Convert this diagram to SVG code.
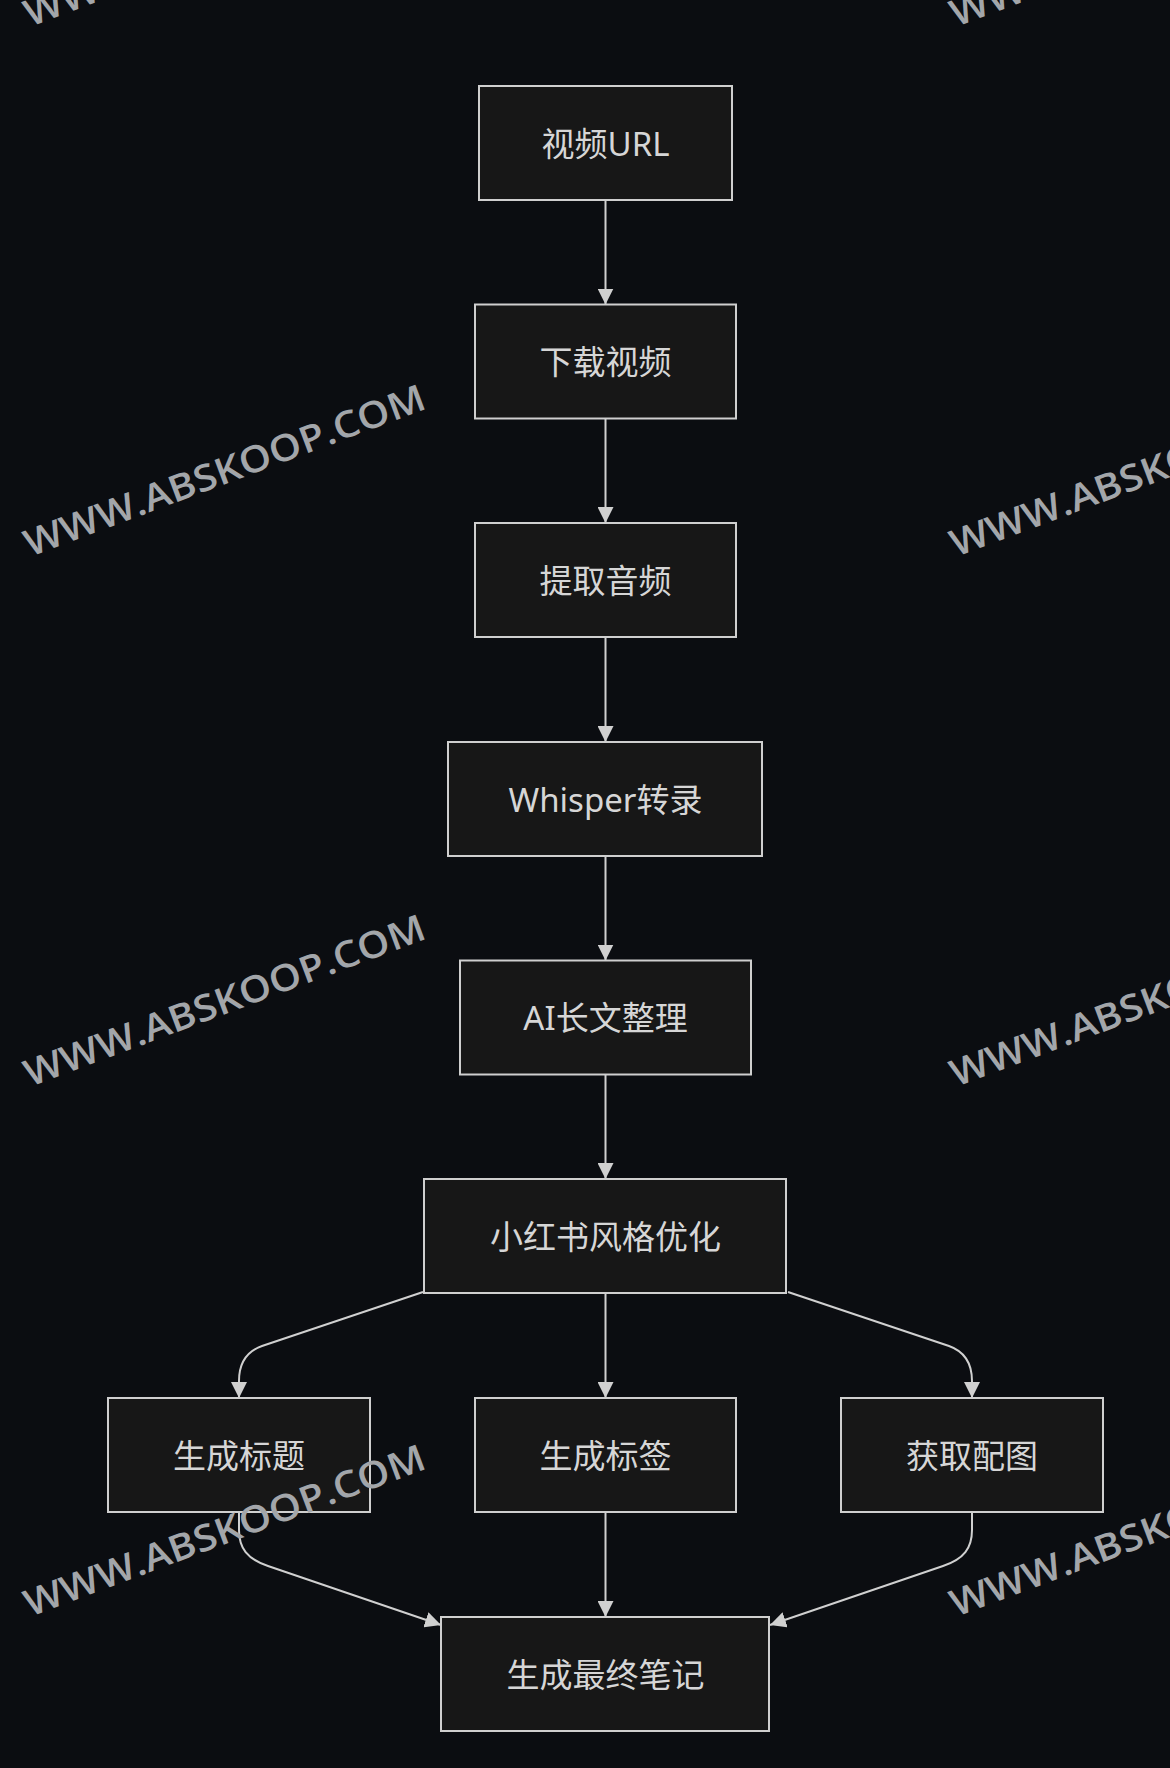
<svg xmlns="http://www.w3.org/2000/svg" width="1170" height="1768" viewBox="0 0 1170 1768">
  <style>
    .node rect { fill: #171717; stroke: #cfcfcf; stroke-width: 2; }
    .node text { fill: #d6d6d6; font-family: "Noto Sans", "Noto Sans CJK SC", sans-serif; font-size: 33px; text-anchor: middle; }
    .edges path { fill: none; stroke: #d0d0d0; stroke-width: 2; marker-end: url(#arrow); }
    .wm { fill: #a3a6aa; font-family: "Open Sans", "DejaVu Sans", sans-serif; font-weight: 600; font-size: 37px; }
  </style>
  <defs>
    <marker id="arrow" viewBox="0 0 10 10" refX="10" refY="5" markerUnits="userSpaceOnUse" markerWidth="16" markerHeight="16" orient="auto">
      <path d="M0,0 L10,5 L0,10 z" fill="#d0d0d0"/>
    </marker>
  </defs>
  <rect width="1170" height="1768" fill="#0b0d11"/>

  <g class="edges">
    <path d="M605.5,200 L605.5,304.5"/>
    <path d="M605.5,418.5 L605.5,523"/>
    <path d="M605.5,637 L605.5,742"/>
    <path d="M605.5,856 L605.5,960.5"/>
    <path d="M605.5,1074.5 L605.5,1179"/>
    <path d="M423,1292 L262,1346 C245,1352 239,1365 239,1381 L239,1398"/>
    <path d="M605.5,1293 L605.5,1398"/>
    <path d="M788,1292 L949,1346 C966,1352 972,1365 972,1381 L972,1398"/>
    <path d="M239,1512 L239,1530 C239,1548 247,1559 268,1566 L441,1625"/>
    <path d="M605.5,1512 L605.5,1617"/>
    <path d="M972,1512 L972,1530 C972,1548 964,1559 943,1566 L770,1625"/>
  </g>

  <g id="n1" class="node"><rect x="479" y="86" width="253" height="114"/><text x="605.5" y="155.5">视频URL</text></g>
  <g id="n2" class="node"><rect x="475" y="304.5" width="261" height="114"/><text x="605.5" y="374">下载视频</text></g>
  <g id="n3" class="node"><rect x="475" y="523" width="261" height="114"/><text x="605.5" y="592.5">提取音频</text></g>
  <g id="n4" class="node"><rect x="448" y="742" width="314" height="114"/><text x="605.5" y="811.5">Whisper转录</text></g>
  <g id="n5" class="node"><rect x="460" y="960.5" width="291" height="114"/><text x="605.5" y="1030">AI长文整理</text></g>
  <g id="n6" class="node"><rect x="424" y="1179" width="362" height="114"/><text x="605.5" y="1248.5">小红书风格优化</text></g>
  <g id="n7" class="node"><rect x="108" y="1398" width="262" height="114"/><text x="239" y="1467.5">生成标题</text></g>
  <g id="n8" class="node"><rect x="475" y="1398" width="261" height="114"/><text x="605.5" y="1467.5">生成标签</text></g>
  <g id="n9" class="node"><rect x="841" y="1398" width="262" height="114"/><text x="972" y="1467.5">获取配图</text></g>
  <g id="n10" class="node"><rect x="441" y="1617" width="328" height="114"/><text x="605.5" y="1686.5">生成最终笔记</text></g>

  <g id="watermarks">
    <text class="wm" transform="translate(30,557) rotate(-20.5)" textLength="425" lengthAdjust="spacingAndGlyphs">WWW.ABSKOOP.COM</text>
    <text class="wm" transform="translate(956,557) rotate(-20.5)" textLength="425" lengthAdjust="spacingAndGlyphs">WWW.ABSKOOP.COM</text>
    <text class="wm" transform="translate(30,27) rotate(-20.5)" textLength="425" lengthAdjust="spacingAndGlyphs">WWW.ABSKOOP.COM</text>
    <text class="wm" transform="translate(956,27) rotate(-20.5)" textLength="425" lengthAdjust="spacingAndGlyphs">WWW.ABSKOOP.COM</text>
    <text class="wm" transform="translate(30,1087) rotate(-20.5)" textLength="425" lengthAdjust="spacingAndGlyphs">WWW.ABSKOOP.COM</text>
    <text class="wm" transform="translate(956,1087) rotate(-20.5)" textLength="425" lengthAdjust="spacingAndGlyphs">WWW.ABSKOOP.COM</text>
    <text class="wm" transform="translate(30,1617) rotate(-20.5)" textLength="425" lengthAdjust="spacingAndGlyphs">WWW.ABSKOOP.COM</text>
    <text class="wm" transform="translate(956,1617) rotate(-20.5)" textLength="425" lengthAdjust="spacingAndGlyphs">WWW.ABSKOOP.COM</text>
  </g>
</svg>
